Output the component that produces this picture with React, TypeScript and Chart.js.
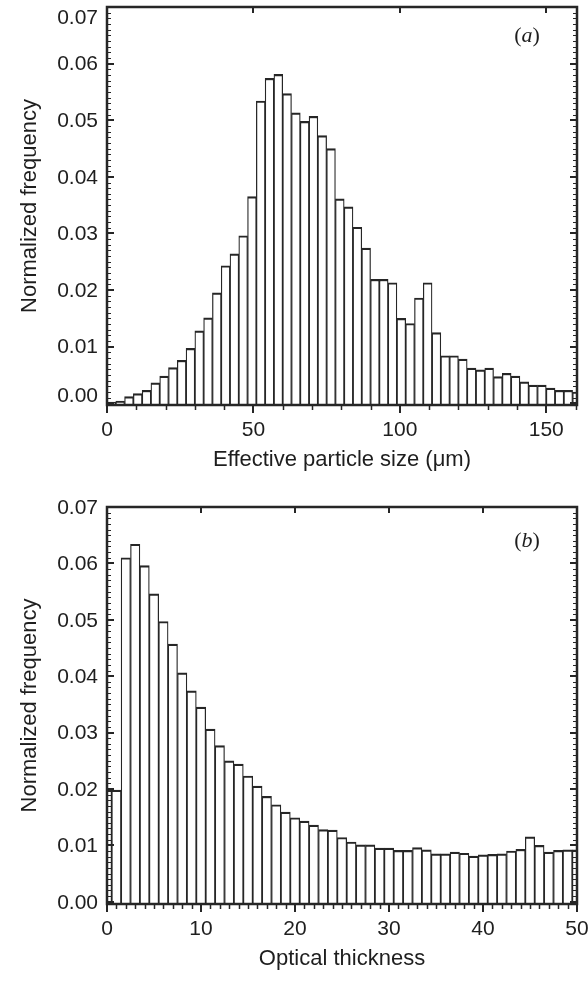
import { useEffect, useRef } from "react";
import { Chart, registerables } from "chart.js";

Chart.register(...registerables);

// ---------- data ----------
// (a) effective particle size histogram, bins of 3 µm starting at 0
const SIZE_BIN_WIDTH = 3;
const sizeFrequency = [
  0.0002, 0.0004, 0.0012, 0.0017, 0.0023, 0.0036, 0.0048, 0.0063, 0.0076, 0.0097,
  0.0128, 0.0151, 0.0195, 0.0243, 0.0264, 0.0296, 0.0365, 0.0534, 0.0574, 0.0581,
  0.0547, 0.0513, 0.0498, 0.0507, 0.0473, 0.045, 0.0361, 0.0347, 0.0311, 0.0274,
  0.0219, 0.0219, 0.0213, 0.015, 0.0141, 0.0186, 0.0213, 0.0125, 0.0084, 0.0084,
  0.0078, 0.0062, 0.0059, 0.0062, 0.0047, 0.0053, 0.0048, 0.0038, 0.0032, 0.0032,
  0.0027, 0.0023, 0.0023, 0.002,
];
const sizeTicks = [0, 50, 100, 150];
const sizeTickLabels = ["0", "50", "100", "150"];

// (b) optical thickness histogram, unit bins centred on integers
const TAU_BIN_WIDTH = 1;
const tauFrequency = [
  0.0198, 0.0198, 0.061, 0.0634, 0.0596, 0.0546, 0.0497, 0.0457, 0.0406, 0.0374,
  0.0345, 0.0306, 0.0277, 0.025, 0.0244, 0.0223, 0.0205, 0.0187, 0.0172, 0.0159,
  0.0149, 0.0143, 0.0136, 0.0128, 0.0127, 0.0114, 0.0106, 0.0101, 0.0101, 0.0095,
  0.0095, 0.0091, 0.0091, 0.0096, 0.0092, 0.0085, 0.0085, 0.0088, 0.0086, 0.0081,
  0.0083, 0.0084, 0.0085, 0.009, 0.0093, 0.0115, 0.01, 0.0088, 0.0091, 0.0092,
  0.0092,
];
const tauTicks = [0, 10, 20, 30, 40, 50];
const tauTickLabels = ["0", "10", "20", "30", "40", "50"];

const freqTicks = [0, 0.01, 0.02, 0.03, 0.04, 0.05, 0.06, 0.07];
const freqTickLabels = ["0.00", "0.01", "0.02", "0.03", "0.04", "0.05", "0.06", "0.07"];

// ---------- styling ----------
const SANS = '"Liberation Sans", Arial, Helvetica, sans-serif';
const SERIF = '"Liberation Serif", "Times New Roman", serif';
const INK = "#262626";
const TEXT = "#1e1e1e";

type Panel = {
  centers: number[];
  values: number[];
  xMin: number;
  xMax: number;
  yMin: number;
  yMax: number;
  xTicks: number[];
  xTickLabels: string[];
  xMinorStep: number;
  xTitle: string;
  letter: string;
  letterDy: number;
  padding: { left: number; right: number; top: number; bottom: number };
  yLabelShift: (i: number, n: number) => number;
};

function makeFramePlugin(p: Panel) {
  return {
    id: "frame",
    afterDatasetsDraw(chart: any) {
      const ctx: CanvasRenderingContext2D = chart.ctx;
      const { left, right, top, bottom } = chart.chartArea;
      const xs = chart.scales.x;
      const ys = chart.scales.y;
      ctx.save();
      ctx.strokeStyle = INK;
      ctx.lineCap = "butt";

      // y minor ticks (left + right, inward)
      ctx.lineWidth = 1.2;
      ctx.beginPath();
      for (let i = 0; i <= 70; i++) {
        if (i % 10 === 0) continue;
        const y = Math.round(ys.getPixelForValue(i * 0.001)) + 0.5;
        ctx.moveTo(left, y);
        ctx.lineTo(left + 4, y);
        ctx.moveTo(right, y);
        ctx.lineTo(right - 4, y);
      }
      ctx.stroke();
      // y major ticks
      ctx.lineWidth = 2;
      ctx.beginPath();
      freqTicks.forEach((v) => {
        const y = Math.round(ys.getPixelForValue(v));
        ctx.moveTo(left, y);
        ctx.lineTo(left + 7, y);
        ctx.moveTo(right, y);
        ctx.lineTo(right - 7, y);
      });
      ctx.stroke();

      // x minor ticks (bottom, outward)
      ctx.lineWidth = 1.5;
      ctx.beginPath();
      for (let v = p.xMin; v <= p.xMax + 1e-9; v += p.xMinorStep) {
        if (p.xTicks.some((t) => Math.abs(t - v) < 1e-6)) continue;
        const x = Math.round(xs.getPixelForValue(v)) + 0.5;
        ctx.moveTo(x, bottom);
        ctx.lineTo(x, bottom + 5);
      }
      ctx.stroke();
      // x major ticks (bottom outward, top inward)
      ctx.lineWidth = 2;
      ctx.beginPath();
      p.xTicks.forEach((v) => {
        const x = Math.round(xs.getPixelForValue(v));
        ctx.moveTo(x, bottom);
        ctx.lineTo(x, bottom + 8);
        if (x > left + 3 && x < right - 3) {
          ctx.moveTo(x, top);
          ctx.lineTo(x, top + 6);
        }
      });
      ctx.stroke();

      // frame
      ctx.lineWidth = 2.5;
      ctx.strokeRect(left, top, right - left, bottom - top);

      // tick labels
      ctx.fillStyle = TEXT;
      ctx.font = `21px ${SANS}`;
      ctx.textAlign = "right";
      ctx.textBaseline = "middle";
      freqTicks.forEach((v, i) => {
        const y = ys.getPixelForValue(v) + p.yLabelShift(i, freqTicks.length);
        ctx.fillText(freqTickLabels[i], left - 9, y);
      });
      ctx.textAlign = "center";
      p.xTicks.forEach((v, i) => {
        ctx.fillText(p.xTickLabels[i], xs.getPixelForValue(v), bottom + 25);
      });

      // axis titles
      ctx.font = `22px ${SANS}`;
      ctx.fillText(p.xTitle, (left + right) / 2, bottom + 55);
      ctx.save();
      ctx.translate(30, (top + bottom) / 2);
      ctx.rotate(-Math.PI / 2);
      ctx.fillText("Normalized frequency", 0, 0);
      ctx.restore();

      // panel letter "(a)" with italic letter
      ctx.font = `22px ${SERIF}`;
      const wOpen = ctx.measureText("(").width;
      const wClose = ctx.measureText(")").width;
      ctx.font = `italic 22px ${SERIF}`;
      const wLet = ctx.measureText(p.letter).width;
      const total = wOpen + wLet + wClose;
      let cx = 527 - total / 2;
      const cy = top + p.letterDy;
      ctx.textAlign = "left";
      ctx.font = `22px ${SERIF}`;
      ctx.fillText("(", cx, cy);
      cx += wOpen;
      ctx.font = `italic 22px ${SERIF}`;
      ctx.fillText(p.letter, cx, cy);
      cx += wLet;
      ctx.font = `22px ${SERIF}`;
      ctx.fillText(")", cx, cy);

      ctx.restore();
    },
  };
}

function HistPanel({ panel, width, height }: { panel: Panel; width: number; height: number }) {
  const ref = useRef<HTMLCanvasElement | null>(null);
  useEffect(() => {
    if (!ref.current) return;
    const points = panel.centers.map((x, i) => ({ x, y: panel.values[i] }));
    const chart = new Chart(ref.current, {
      type: "bar",
      data: {
        datasets: [
          {
            data: points as any,
            backgroundColor: "#ffffff",
            borderColor: INK,
            borderWidth: { top: 2.2, left: 1.25, right: 1.25, bottom: 0 } as any,
            borderSkipped: false,
            barPercentage: 1,
            categoryPercentage: 1,
            base: panel.yMin,
            clip: 0,
          } as any,
        ],
      },
      options: {
        responsive: false,
        maintainAspectRatio: false,
        animation: false,
        layout: { padding: panel.padding },
        plugins: { legend: { display: false }, tooltip: { enabled: false } },
        scales: {
          x: {
            type: "linear",
            display: false,
            min: panel.xMin,
            max: panel.xMax,
            offset: false,
            afterBuildTicks: (s: any) => {
              s.ticks = panel.xTicks.map((v) => ({ value: v }));
            },
          },
          y: {
            type: "linear",
            display: false,
            min: panel.yMin,
            max: panel.yMax,
            afterBuildTicks: (s: any) => {
              s.ticks = freqTicks.map((v) => ({ value: v }));
            },
          },
        },
      } as any,
      plugins: [makeFramePlugin(panel)],
    });
    return () => chart.destroy();
  }, [panel]);
  return <canvas ref={ref} width={width} height={height} style={{ display: "block", width, height }} />;
}

const panelA: Panel = {
  centers: sizeFrequency.map((_, i) => (i + 0.5) * SIZE_BIN_WIDTH),
  values: sizeFrequency,
  xMin: 0,
  xMax: 160.5,
  yMin: -0.0003,
  yMax: 0.07,
  xTicks: sizeTicks,
  xTickLabels: sizeTickLabels,
  xMinorStep: 10,
  xTitle: "Effective particle size (\u03bcm)",
  letter: "a",
  letterDy: 29,
  padding: { left: 107, right: 11, top: 7, bottom: 85 },
  yLabelShift: (i, n) => (i === 0 ? -7 : i === n - 1 ? 11 : 1),
};

const panelB: Panel = {
  centers: tauFrequency.map((_, i) => i * TAU_BIN_WIDTH),
  values: tauFrequency,
  xMin: 0,
  xMax: 50,
  yMin: -0.0004,
  yMax: 0.07,
  xTicks: tauTicks,
  xTickLabels: tauTickLabels,
  xMinorStep: 1,
  xTitle: "Optical thickness",
  letter: "b",
  letterDy: 34,
  padding: { left: 107, right: 11, top: 17, bottom: 77 },
  yLabelShift: () => 1,
};

export default function App() {
  return (
    <div style={{ position: "absolute", left: 0, top: 0, width: 588, height: 981, background: "#fff" }}>
      <div style={{ position: "absolute", left: 0, top: 0 }}>
        <HistPanel panel={panelA} width={588} height={490} />
      </div>
      <div style={{ position: "absolute", left: 0, top: 490 }}>
        <HistPanel panel={panelB} width={588} height={491} />
      </div>
    </div>
  );
}
